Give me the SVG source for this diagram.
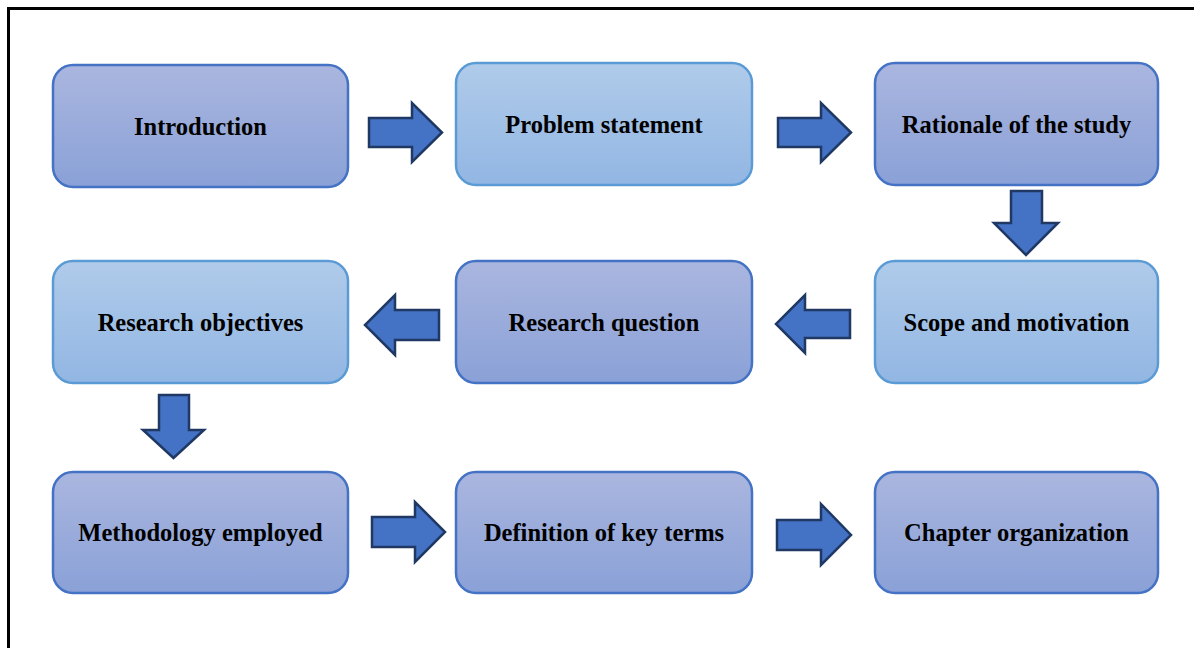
<svg xmlns="http://www.w3.org/2000/svg" width="1194" height="648" viewBox="0 0 1194 648">
<defs>
<linearGradient id="gDark" x1="0" y1="0" x2="0" y2="1">
<stop offset="0" stop-color="#aab6df"/>
<stop offset="1" stop-color="#8aa1d7"/>
</linearGradient>
<linearGradient id="gLight" x1="0" y1="0" x2="0" y2="1">
<stop offset="0" stop-color="#b0cbea"/>
<stop offset="1" stop-color="#92b6e3"/>
</linearGradient>
</defs>
<style>
.dark{fill:url(#gDark);stroke:#4472c4;stroke-width:2.5}
.light{fill:url(#gLight);stroke:#5b9bd5;stroke-width:2.5}
.lbl{font-family:"Liberation Serif","Times New Roman",serif;font-weight:bold;font-size:24.5px;fill:#000;text-anchor:middle}
.arr{fill:#4472c4;stroke:#1f3864;stroke-width:2.5;stroke-linejoin:miter}
</style>
<rect width="1194" height="648" fill="#fff"/>
<path d="M8.5 648 V8.5 H1194" fill="none" stroke="#000" stroke-width="3"/>

<g id="n-introduction"><rect class="dark" x="53" y="65" width="295" height="122" rx="20"/><text class="lbl" x="200.5" y="134.5">Introduction</text></g>
<g id="n-problem"><rect class="light" x="456" y="63" width="296" height="122" rx="20"/><text class="lbl" x="604" y="133">Problem statement</text></g>
<g id="n-rationale"><rect class="dark" x="875" y="63" width="283" height="122" rx="20"/><text class="lbl" x="1016.5" y="133">Rationale of the study</text></g>
<g id="n-scope"><rect class="light" x="875" y="261" width="283" height="122" rx="20"/><text class="lbl" x="1016.5" y="331">Scope and motivation</text></g>
<g id="n-question"><rect class="dark" x="456" y="261" width="296" height="122" rx="20"/><text class="lbl" x="604" y="331">Research question</text></g>
<g id="n-objectives"><rect class="light" x="53" y="261" width="295" height="122" rx="20"/><text class="lbl" x="200.5" y="331">Research objectives</text></g>
<g id="n-methodology"><rect class="dark" x="53" y="472" width="295" height="121" rx="20"/><text class="lbl" x="200.5" y="541">Methodology employed</text></g>
<g id="n-definition"><rect class="dark" x="456" y="472" width="296" height="121" rx="20"/><text class="lbl" x="604" y="541">Definition of key terms</text></g>
<g id="n-chapter"><rect class="dark" x="875" y="472" width="283" height="121" rx="20"/><text class="lbl" x="1016.5" y="541">Chapter organization</text></g>

<g id="connectors">
<polygon class="arr" points="369,118 412,118 412,103 442,132.5 412,162 412,147 369,147"/>
<polygon class="arr" points="778,118 821,118 821,103 851,132.5 821,162 821,147 778,147"/>
<polygon class="arr" points="1011,191 1042,191 1042,223 1058,223 1026,255 994,223 1011,223"/>
<polygon class="arr" points="850,310 805,310 805,295 776,324 805,353 805,338 850,338"/>
<polygon class="arr" points="439,310 395,310 395,295 365,325 395,355 395,340 439,340"/>
<polygon class="arr" points="159,395 189,395 189,430 204,430 173.5,458 143,430 159,430"/>
<polygon class="arr" points="372,517 415,517 415,502 445,532 415,562 415,547 372,547"/>
<polygon class="arr" points="777,520 821,520 821,504 851,535 821,565 821,550 777,550"/>
</g>
</svg>
